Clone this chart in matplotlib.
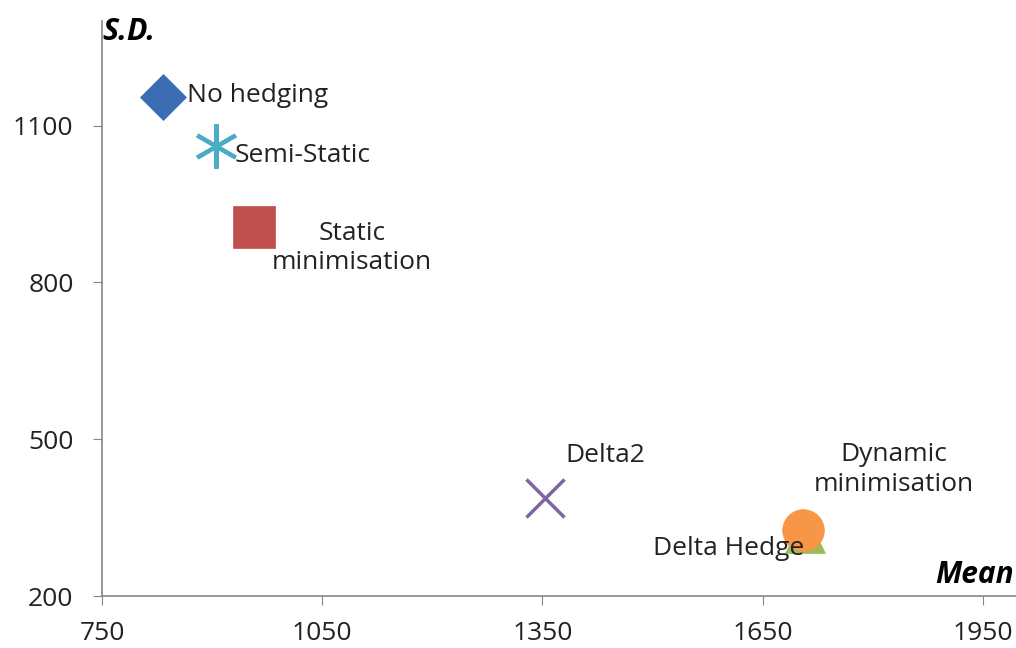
import matplotlib
matplotlib.use("Agg")
import matplotlib.pyplot as plt

plt.rcParams['font.family'] = ['Open Sans', 'DejaVu Sans']

# hedging strategies: mean vs standard deviation
labels = ['No hedging', 'Semi-Static', 'Static\nminimisation', 'Delta2',
          'Delta Hedge', 'Dynamic\nminimisation']
mean = [833, 905, 957, 1353, 1708, 1705]
sd = [1155, 1061, 906, 388, 320, 326]

x_ticks = [750, 1050, 1350, 1650, 1950]
y_ticks = [200, 500, 800, 1100]

# marker, colour, size, edge width, label offset (px), text alignment
styles = [
    ('D', '#3c6cb4', 23, 0, (24, 1), 'left'),
    ((6, 2, 0), '#4bacc6', 32, 3.0, (19, -10), 'left'),
    ('s', '#c0504d', 30, 0, (98, -21), 'center'),
    ('x', '#8064a2', 28, 2.5, (61, 42), 'center'),
    ('^', '#9bbb59', 29, 0, (-77, -15), 'center'),
    ('o', '#f79646', 30, 0, (91, 61), 'center'),
]

fig = plt.figure(figsize=(10.16, 6.48), dpi=100)
ax = fig.add_axes([0.1004, 0.0802, 0.8996, 0.8874])

for lab, m, s, (mk, col, ms, lw, off, ha) in zip(labels, mean, sd, styles):
    if lw:
        ax.plot(m, s, linestyle='none', marker=mk, markersize=ms,
                markeredgecolor=col, markeredgewidth=lw, color=col)
    else:
        ax.plot(m, s, linestyle='none', marker=mk, markersize=ms,
                color=col, markeredgecolor=col, markeredgewidth=0.5)
    ax.annotate(lab, (m, s), xytext=off, textcoords='offset pixels',
                ha=ha, va='center', fontsize=19, color='#222222',
                linespacing=1.25)

ax.set_xlim(750, 1995)
ax.set_ylim(200, 1300)
ax.set_xticks(x_ticks)
ax.set_yticks(y_ticks)
ax.tick_params(axis='both', labelsize=19, color='#868686', length=6.5,
               labelcolor='#222222')
ax.tick_params(axis='x', pad=11.5)
ax.tick_params(axis='y', pad=14)
ax.spines['top'].set_visible(False)
ax.spines['right'].set_visible(False)
for sp in ['left', 'bottom']:
    ax.spines[sp].set_color('#868686')
    ax.spines[sp].set_linewidth(1.2)

ax.text(0.0, 0.98, 'S.D.', transform=ax.transAxes, fontsize=22,
        fontweight='bold', fontstyle='italic', ha='left', va='center')
ax.text(0.998, 0.036, 'Mean', transform=ax.transAxes, fontsize=21.5,
        fontweight='bold', fontstyle='italic', ha='right', va='center')

fig.savefig('out.png', dpi=100)
